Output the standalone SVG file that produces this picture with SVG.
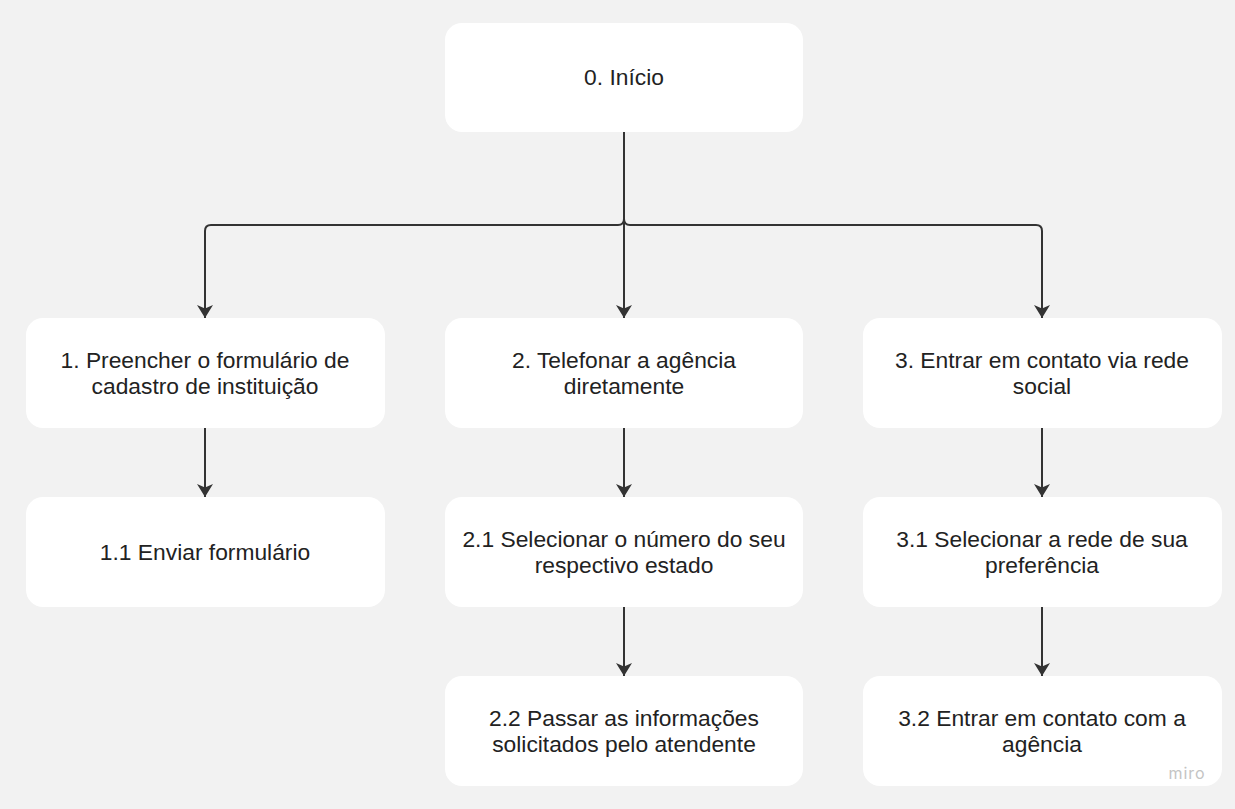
<svg xmlns="http://www.w3.org/2000/svg" width="1235" height="809" viewBox="0 0 1235 809">
<style>
.box{fill:#ffffff;}
.lbl{font-family:"Liberation Sans",Arial,sans-serif;font-size:22.8px;fill:#222222;text-anchor:middle;}
.con{fill:none;stroke:#333333;stroke-width:2;}
</style>
<defs>
<marker id="ahd" viewBox="0 0 16 13" refX="8" refY="13" markerWidth="16" markerHeight="13" markerUnits="userSpaceOnUse" orient="0">
<path d="M0 0 L8 3.5 L16 0 L8 13 Z" fill="#333333"/>
</marker>
</defs>
<rect width="1235" height="809" fill="#f2f2f2"/>
<g id="connectors">
<path class="con" d="M624 132 V318" marker-end="url(#ahd)"/>
<path class="con" d="M624 132 V219 Q624 225 618 225 H211 Q205 225 205 231 V318" marker-end="url(#ahd)"/>
<path class="con" d="M624 132 V219 Q624 225 630 225 H1036 Q1042 225 1042 231 V318" marker-end="url(#ahd)"/>
<path class="con" d="M205 428 V497" marker-end="url(#ahd)"/>
<path class="con" d="M624 428 V497" marker-end="url(#ahd)"/>
<path class="con" d="M1042 428 V497" marker-end="url(#ahd)"/>
<path class="con" d="M624 607 V676" marker-end="url(#ahd)"/>
<path class="con" d="M1042 607 V676" marker-end="url(#ahd)"/>
</g>
<g id="n0"><rect class="box" x="445" y="23" width="358" height="109" rx="17"/><text class="lbl" x="624" y="85">0. Início</text></g>
<g id="n1"><rect class="box" x="26" y="318" width="359" height="110" rx="17"/><text class="lbl" x="205" y="368">1. Preencher o formulário de</text><text class="lbl" x="205" y="394">cadastro de instituição</text></g>
<g id="n2"><rect class="box" x="445" y="318" width="358" height="110" rx="17"/><text class="lbl" x="624" y="368">2. Telefonar a agência</text><text class="lbl" x="624" y="394">diretamente</text></g>
<g id="n3"><rect class="box" x="863" y="318" width="359" height="110" rx="17"/><text class="lbl" x="1042" y="368">3. Entrar em contato via rede</text><text class="lbl" x="1042" y="394">social</text></g>
<g id="n11"><rect class="box" x="26" y="497" width="359" height="110" rx="17"/><text class="lbl" x="205" y="560">1.1 Enviar formulário</text></g>
<g id="n21"><rect class="box" x="445" y="497" width="358" height="110" rx="17"/><text class="lbl" x="624" y="547">2.1 Selecionar o número do seu</text><text class="lbl" x="624" y="573">respectivo estado</text></g>
<g id="n31"><rect class="box" x="863" y="497" width="359" height="110" rx="17"/><text class="lbl" x="1042" y="547">3.1 Selecionar a rede de sua</text><text class="lbl" x="1042" y="573">preferência</text></g>
<g id="n22"><rect class="box" x="445" y="676" width="358" height="110" rx="17"/><text class="lbl" x="624" y="726">2.2 Passar as informações</text><text class="lbl" x="624" y="752">solicitados pelo atendente</text></g>
<g id="n32"><rect class="box" x="863" y="676" width="359" height="110" rx="17"/><text class="lbl" x="1042" y="726">3.2 Entrar em contato com a</text><text class="lbl" x="1042" y="752">agência</text></g>
<text x="1187" y="779" font-family="Inter,'Liberation Sans',sans-serif" font-size="16" fill="#c4c4c4" text-anchor="middle" letter-spacing="1">miro</text>
</svg>
